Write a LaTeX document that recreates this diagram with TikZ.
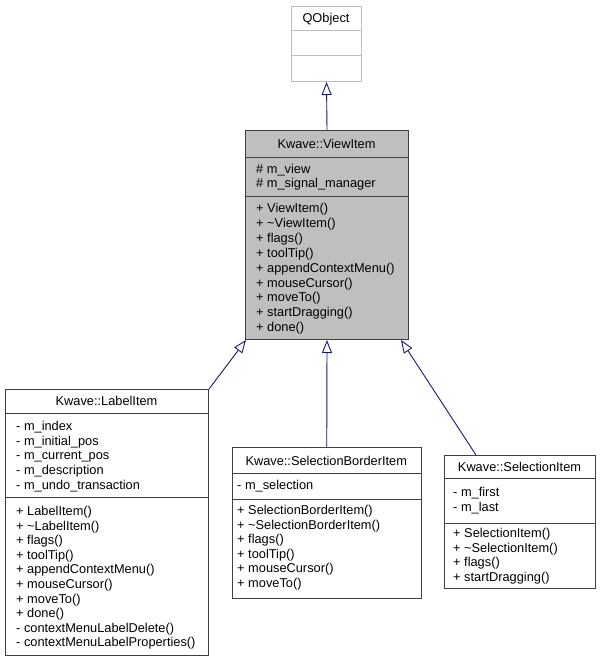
\documentclass[tikz,border=0pt]{standalone}
\usepackage{fontspec}
\setmainfont{Liberation Sans}
\usetikzlibrary{arrows.meta}
\definecolor{edgec}{HTML}{191970}
\definecolor{bord}{HTML}{404040}
\definecolor{extc}{HTML}{BFBFBF}
\begin{document}
\begin{tikzpicture}[x=1pt,y=-1pt,font=\fontsize{12.8}{14}\selectfont,
  box/.style={draw=bord,line width=1pt,inner sep=0,anchor=north west},
  sepl/.style={draw=bord,line width=1pt},
  mem/.style={anchor=base west,inner sep=0},
  ttl/.style={anchor=base,inner sep=0},
  inh/.style={draw=edgec,line width=0.9pt,-{Triangle[open,length=13pt,width=10pt,fill=white]}}]
\useasboundingbox (0,0) rectangle (601,661);
% QObject
\node[box,draw=extc,minimum width=70pt,minimum height=75pt] (qo) at (291,6) {};
\draw[sepl,draw=extc] (291,31) -- (361,31);
\draw[sepl,draw=extc] (291,56) -- (361,56);
\node[ttl] (qot) at (326,22.5) {QObject};
% ViewItem
\node[box,fill=extc,minimum width=163pt,minimum height=209pt] (vi) at (245,130) {};
\draw[sepl] (245,157) -- (408,157);
\draw[sepl] (245,196) -- (408,196);
\node[ttl] (vit) at (326.5,148) {Kwave::ViewItem};
\foreach \t [count=\i] in {\# m\_view,\# m\_signal\_manager}
  \node[mem] (via\i) at (256,{173+14.6*(\i-1)}) {\t};
\foreach \t [count=\i] in {+ ViewItem(),+ \textasciitilde ViewItem(),+ flags(),+ toolTip(),+ appendContextMenu(),+ mouseCursor(),+ moveTo(),+ startDragging(),+ done()}
  \node[mem] (vim\i) at (256,{212.5+14.9*(\i-1)}) {\t};
% LabelItem
\node[box,minimum width=203pt,minimum height=266pt] (lbl) at (5,389) {};
\draw[sepl] (5,413) -- (208,413);
\draw[sepl] (5,497) -- (208,497);
\node[ttl] (lblt) at (106.5,405.5) {Kwave::LabelItem};
\foreach \t [count=\i] in {- m\_index,- m\_initial\_pos,- m\_current\_pos,- m\_description,- m\_undo\_transaction}
  \node[mem] (lbla\i) at (16,{430.5+14.7*(\i-1)}) {\t};
\foreach \t [count=\i] in {+ LabelItem(),+ \textasciitilde LabelItem(),+ flags(),+ toolTip(),+ appendContextMenu(),+ mouseCursor(),+ moveTo(),+ done(),- contextMenuLabelDelete(),- contextMenuLabelProperties()}
  \node[mem] (lblm\i) at (16,{515.5+14.6*(\i-1)}) {\t};
% SelectionBorderItem
\node[box,minimum width=189.5pt,minimum height=151pt] (sbi) at (231.5,447) {};
\draw[sepl] (231.5,473) -- (421,473);
\draw[sepl] (231.5,499) -- (421,499);
\node[ttl] (sbit) at (326.25,465.5) {Kwave::SelectionBorderItem};
\node[mem] (sbia1) at (237,489) {- m\_selection};
\foreach \t [count=\i] in {+ SelectionBorderItem(),+ \textasciitilde SelectionBorderItem(),+ flags(),+ toolTip(),+ mouseCursor(),+ moveTo()}
  \node[mem] (sbim\i) at (237,{514.5+14.6*(\i-1)}) {\t};
% SelectionItem
\node[box,minimum width=151pt,minimum height=133pt] (si) at (444,455) {};
\draw[sepl] (444,478) -- (595,478);
\draw[sepl] (444,523) -- (595,523);
\node[ttl] (sit) at (519.5,471.5) {Kwave::SelectionItem};
\foreach \t [count=\i] in {- m\_first,- m\_last}
  \node[mem] (sia\i) at (453,{496.5+14.8*(\i-1)}) {\t};
\foreach \t [count=\i] in {+ SelectionItem(),+ \textasciitilde SelectionItem(),+ flags(),+ startDragging()}
  \node[mem] (sim\i) at (453,{537.5+14.7*(\i-1)}) {\t};
% inheritance
\draw[inh] (vi.north) -- (qo.south);
\draw[inh] (lbl.north east) -- ([xshift=1pt]vi.south west);
\draw[inh] (sbi.north) -- (vi.south);
\draw[inh] ([xshift=32pt]si.north west) -- ([xshift=-8pt]vi.south east);
\end{tikzpicture}
\end{document}
